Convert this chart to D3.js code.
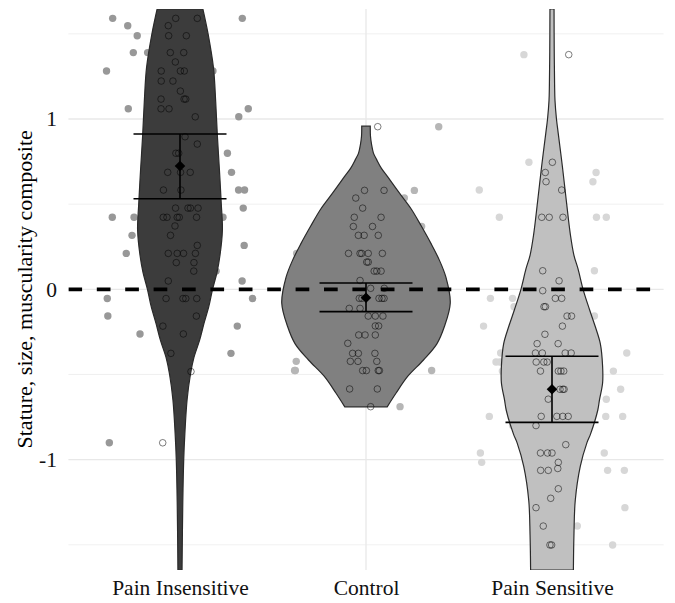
<!DOCTYPE html>
<html><head><meta charset="utf-8">
<script src="https://cdn.jsdelivr.net/npm/d3@7"></script>
<style>
body{margin:0;background:#fff}
svg{display:block}
svg text{font-family:"Liberation Serif","Times New Roman",serif !important}
</style>
</head><body>
<svg id="chart" width="675" height="603"></svg>
<script>
// ---------- data ----------
const categories = ["Pain Insensitive", "Control", "Pain Sensitive"];
const yTicks = [-1, 0, 1];
const yMinorTicks = [-1.5, -0.5, 0.5, 1.5];
const yTitle = "Stature, size, muscularity composite";

// group summaries (mean and confidence interval)
const means   = [0.724, -0.049, -0.587];
const ciLower = [0.532, -0.131, -0.781];
const ciUpper = [0.912,  0.037, -0.393];

// Pain Insensitive observations + jitter (fraction of category step)
const piValues = [1.591,1.591,1.548,1.489,1.489,1.39,1.39,1.335,1.282,1.282,1.282,1.223,1.223,1.164,1.117,1.117,1.117,1.06,1.06,1.013,0.896,0.853,0.799,0.799,0.687,0.687,0.687,0.583,0.583,0.477,0.477,0.477,0.477,0.423,0.423,0.423,0.423,0.423,0.372,0.317,0.258,0.211,0.211,0.211,0.211,0.157,0.157,0.107,0.049,-0.054,-0.054,-0.054,-0.054,-0.157,-0.216,-0.262,-0.376,-0.483,-0.901];
const piInner = [-0.023,0.093,-0.063,-0.061,0.034,0.020,-0.052,-0.025,-0.101,0.002,0.023,-0.101,-0.038,0.002,-0.102,0.022,0.031,-0.102,-0.059,0.082,0.027,0.093,-0.022,-0.007,-0.066,0.003,0.055,-0.089,0.005,-0.024,0.043,0.056,0.097,-0.090,-0.070,-0.015,-0.004,0.089,-0.027,-0.051,0.093,-0.063,-0.015,0.019,0.083,-0.020,0.075,0.074,-0.063,-0.075,0.016,0.031,0.090,0.088,-0.092,0.018,-0.049,0.059,-0.093];
const piOuter = [-0.362,0.335,-0.281,-0.230,0,-0.251,-0.174,0,-0.395,0.177,0,0,0,0,0,0,0,-0.278,0.367,0.316,0,0,0.255,0,0.277,0,0,0.315,0.347,0.340,0,0,0,-0.364,-0.247,0.231,0,0,0,-0.258,0.345,-0.289,0,0,0,0,0,0.194,0.334,-0.391,0.390,0,0,-0.388,0.308,-0.215,0.274,0,-0.380];

// Control observations
const ctValues = [0.955,0.581,0.581,0.536,0.477,0.423,0.423,0.369,0.369,0.317,0.317,0.317,0.211,0.211,0.211,0.211,0.211,0.160,0.160,0.107,0.107,0.107,0.052,0.006,0.006,-0.053,-0.053,-0.053,-0.053,-0.053,-0.112,-0.112,-0.157,-0.157,-0.157,-0.215,-0.215,-0.268,-0.268,-0.268,-0.317,-0.376,-0.376,-0.376,-0.423,-0.423,-0.423,-0.477,-0.477,-0.477,-0.477,-0.585,-0.585,-0.689];
const ctInner = [0.063,-0.008,0.097,-0.055,-0.018,-0.063,0.081,-0.068,0.035,-0.041,-0.010,0.066,-0.094,-0.032,-0.023,0.012,0.088,0.004,0.012,0.044,0.058,0.081,-0.032,0.025,0.098,-0.036,-0.022,0.070,0.086,0.097,-0.090,-0.032,0.012,0.050,0.091,0.050,0.068,-0.039,-0.005,0.050,-0.098,-0.072,-0.041,0.048,-0.084,-0.043,0.058,-0.018,0.002,0.066,0.072,-0.088,0.061,0.025];
const ctOuter = [0.391,0.260,0,0.206,0,0,0,-0.265,0.299,0,0,0,-0.373,
  0,0,0,0,0,0,0,0,0,0,0,0,0,0,0,0,0,0,0,0,0,0,0,0,0,0,0,0,0,0,0,
  -0.375,0,0,-0.384,-0.380,0.353,0,0,0,0.183];

// Pain Sensitive observations
const psValues = [1.378,0.746,0.686,0.632,0.583,0.423,0.423,0.423,0.109,0.050,-0.008,-0.053,-0.053,-0.102,-0.102,-0.157,-0.157,-0.216,-0.264,-0.319,-0.319,-0.374,-0.374,-0.374,-0.374,-0.427,-0.427,-0.427,-0.480,-0.480,-0.480,-0.480,-0.587,-0.587,-0.587,-0.645,-0.746,-0.746,-0.746,-0.746,-0.800,-0.912,-0.961,-0.961,-0.961,-1.016,-1.052,-1.063,-1.063,-1.171,-1.227,-1.282,-1.390,-1.501,-1.501];
const psInner = [0.090,0.002,-0.036,-0.032,0.052,-0.055,-0.015,0.059,-0.050,0.038,-0.050,0.018,0.052,-0.043,-0.035,0.081,0.105,0.056,-0.038,-0.080,0.033,-0.089,-0.052,0.071,0.103,-0.085,-0.044,-0.026,-0.062,0.034,0.048,0.063,0.043,0.058,0.065,-0.020,-0.058,0.026,0.058,0.087,-0.086,0.074,-0.062,-0.024,0.000,0.034,0.031,-0.061,-0.020,0.034,-0.007,-0.086,-0.047,-0.011,-0.002];
const psOuter = [-0.151,-0.124,0.237,0.220,-0.391,-0.283,0.239,0.292,0.228,0,0,-0.331,-0.212,-0.204,0,0.228,0,-0.368,0,0,0,-0.276,0.402,0,0,-0.301,-0.281,0,0.330,-0.267,0,0,0.369,0,0,0.292,-0.337,0.289,0.380,0,-0.212,0,-0.385,0.281,0,-0.378,0,0.299,0.389,0,0,0.392,0.136,0.326,0];

// violin outlines: level -> half width (fraction of category step)
const piViolinLevels = [1.646,1.5,1.3,1.1,0.9,0.7,0.5,0.35,0.2,0.1,0.0,-0.1,-0.2,-0.3,-0.4,-0.5,-0.65,-0.85,-1.0,-1.25,-1.648];
const piViolinHalf   = [0.123,0.151,0.180,0.192,0.201,0.212,0.222,0.228,0.215,0.199,0.175,0.155,0.129,0.105,0.075,0.056,0.038,0.026,0.020,0.015,0.011];
const ctViolinLevels = [0.958,0.9,0.85,0.8,0.76,0.71,0.66,0.56,0.47,0.37,0.27,0.17,0.07,-0.08,-0.22,-0.32,-0.415,-0.51,-0.61,-0.69];
const ctViolinHalf   = [0.023,0.024,0.030,0.040,0.058,0.083,0.117,0.183,0.244,0.298,0.349,0.395,0.430,0.453,0.421,0.381,0.309,0.225,0.161,0.114];
const psViolinLevels = [1.646,1.4,1.2,1.11,1.0,0.92,0.72,0.52,0.32,0.2,0.12,0.0,-0.12,-0.22,-0.32,-0.45,-0.55,-0.65,-0.71,-0.85,-0.9,-1.04,-1.24,-1.44,-1.648];
const psViolinHalf   = [0.011,0.012,0.014,0.016,0.024,0.033,0.056,0.077,0.099,0.118,0.140,0.167,0.202,0.233,0.260,0.272,0.272,0.255,0.246,0.207,0.188,0.152,0.125,0.118,0.115];

// styles per group
const violinFill = ["#3c3c3c", "#808080", "#c0c0c0"];
const pointFill  = ["#989898", "#b6b6b6", "#d7d7d7"];
const serif = '"Liberation Serif","Times New Roman",serif';

// ---------- build ----------
const groups = [
  {cat: categories[0], values: piValues, inner: piInner, outer: piOuter, levels: piViolinLevels, half: piViolinHalf},
  {cat: categories[1], values: ctValues, inner: ctInner, outer: ctOuter, levels: ctViolinLevels, half: ctViolinHalf},
  {cat: categories[2], values: psValues, inner: psInner, outer: psOuter, levels: psViolinLevels, half: psViolinHalf}
];

const svg = d3.select("#chart");
const x = d3.scalePoint().domain(categories).range([68.4, 663.6]).padding(0.6);
const step = x.step();
const y = d3.scaleLinear().domain([-1.648, 1.646]).range([570, 9]);
const [x0, x1] = x.range();

svg.append("defs").append("clipPath").attr("id", "panel")
  .append("rect").attr("x", x0).attr("y", y.range()[1])
  .attr("width", x1 - x0).attr("height", y.range()[0] - y.range()[1]);

// grid
const grid = svg.append("g");
grid.selectAll(".minor").data(yMinorTicks).join("line")
  .attr("x1", x0).attr("x2", x1).attr("y1", d => y(d)).attr("y2", d => y(d))
  .attr("stroke", "#ececec").attr("stroke-width", 0.8);
grid.selectAll(".major").data(yTicks).join("line")
  .attr("x1", x0).attr("x2", x1).attr("y1", d => y(d)).attr("y2", d => y(d))
  .attr("stroke", "#e8e8e8").attr("stroke-width", 1.3);
grid.selectAll(".vmajor").data(categories).join("line")
  .attr("x1", d => x(d)).attr("x2", d => x(d)).attr("y1", y.range()[1]).attr("y2", y.range()[0])
  .attr("stroke", "#e8e8e8").attr("stroke-width", 1.3);

const plot = svg.append("g").attr("clip-path", "url(#panel)");

// jittered filled points (behind violins)
groups.forEach((g, gi) => {
  plot.append("g").selectAll("circle").data(g.values).join("circle")
    .attr("cx", (d, i) => x(g.cat) + g.outer[i] * step)
    .attr("cy", d => y(d))
    .attr("r", 3.7)
    .attr("fill", pointFill[gi]);
});

// violins
groups.forEach((g, gi) => {
  const pts = g.levels.map((v, i) => ({v, h: g.half[i]}));
  const area = d3.area()
    .y(d => y(d.v))
    .x0(d => x(g.cat) - d.h * step)
    .x1(d => x(g.cat) + d.h * step)
    .curve(d3.curveCatmullRom.alpha(0.5));
  plot.append("path").datum(pts)
    .attr("d", area)
    .attr("fill", violinFill[gi])
    .attr("stroke", "#2a2a2a")
    .attr("stroke-width", 1.2);
});

// dashed zero line
plot.append("line")
  .attr("x1", x0).attr("x2", x1).attr("y1", y(0)).attr("y2", y(0))
  .attr("stroke", "#000").attr("stroke-width", 3.8)
  .attr("stroke-dasharray", "13.7 14.7");

// open circles (narrow jitter)
groups.forEach((g) => {
  plot.append("g").selectAll("circle").data(g.values).join("circle")
    .attr("cx", (d, i) => x(g.cat) + g.inner[i] * step)
    .attr("cy", d => y(d))
    .attr("r", 3.3)
    .attr("fill", "none")
    .attr("stroke", "#000")
    .attr("stroke-opacity", 0.5)
    .attr("stroke-width", 1);
});

// error bars + means
const eb = svg.append("g").attr("stroke", "#000").attr("stroke-width", 1.6);
categories.forEach((c, i) => {
  const cx = x(c);
  eb.append("line").attr("x1", cx).attr("x2", cx).attr("y1", y(ciLower[i])).attr("y2", y(ciUpper[i]));
  eb.append("line").attr("x1", cx - 0.25 * step).attr("x2", cx + 0.25 * step).attr("y1", y(ciLower[i])).attr("y2", y(ciLower[i]));
  eb.append("line").attr("x1", cx - 0.25 * step).attr("x2", cx + 0.25 * step).attr("y1", y(ciUpper[i])).attr("y2", y(ciUpper[i]));
});
const diamond = d3.symbol().type(d3.symbolSquare).size(56);
svg.append("g").selectAll("path").data(categories).join("path")
  .attr("d", diamond)
  .attr("transform", (c, i) => `translate(${x(c)},${y(means[i])}) rotate(45)`)
  .attr("fill", "#000");

// axes
const yAxis = svg.append("g").attr("transform", `translate(${x0},0)`)
  .call(d3.axisLeft(y).tickValues(yTicks).tickSize(0).tickPadding(11.5).tickFormat(d => String(d)));
yAxis.select(".domain").remove();
yAxis.attr("font-family", serif).attr("font-size", 21.5);
yAxis.selectAll("text").style("font-size", "21.5px").style("font-family", serif).attr("fill", "#111");

const xAxis = svg.append("g").attr("transform", `translate(0,${y.range()[0]})`)
  .call(d3.axisBottom(x).tickSize(0));
xAxis.select(".domain").remove();
xAxis.attr("font-family", serif).attr("font-size", 21.5);
xAxis.selectAll("text").attr("y", 25).attr("dy", 0)
  .style("font-size", "21.5px").style("font-family", serif).attr("fill", "#111");

svg.append("text")
  .attr("transform", `translate(32,${y(0)}) rotate(-90)`)
  .attr("text-anchor", "middle")
  .style("font-size", "22px")
  .style("font-family", serif)
  .attr("fill", "#000")
  .text(yTitle);
</script>
</body></html>
